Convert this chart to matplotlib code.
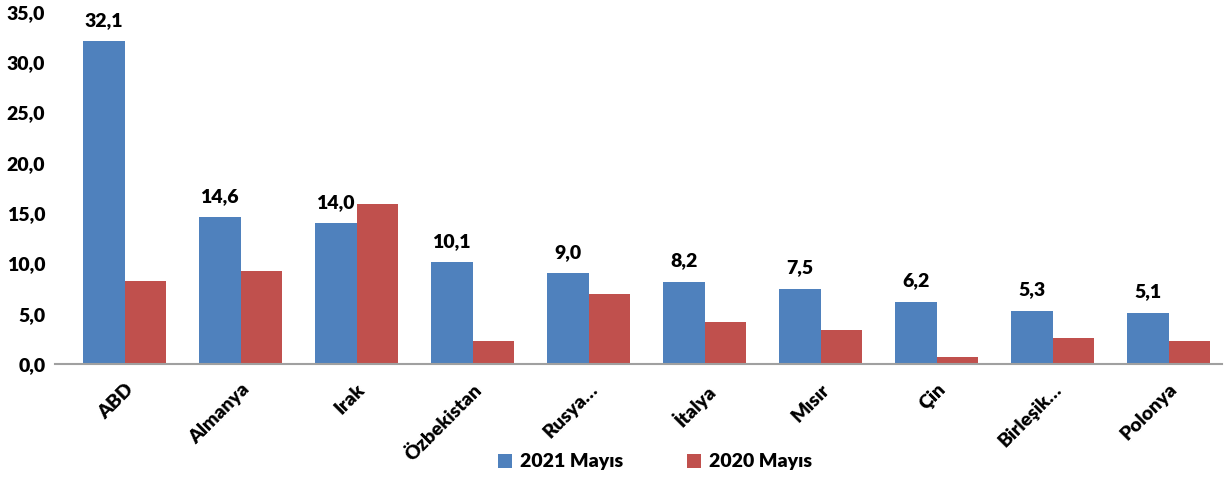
import numpy as np
import matplotlib.pyplot as plt

plt.rcParams['font.family'] = ['Lato', 'DejaVu Sans']

countries = ["ABD", "Almanya", "Irak", "Özbekistan", "Rusya…", "İtalya",
             "Mısır", "Çin", "Birleşik…", "Polonya"]
may_2021 = [32.1, 14.6, 14.0, 10.1, 9.0, 8.2, 7.5, 6.2, 5.3, 5.1]
may_2020 = [8.3, 9.2, 15.9, 2.3, 7.0, 4.2, 3.4, 0.7, 2.6, 2.3]
yticks = [0, 5, 10, 15, 20, 25, 30, 35]

blue = "#4F81BD"
red = "#C0504D"
fs = 14
wt = "heavy"

fig = plt.figure(figsize=(12.31, 4.8), dpi=100)
ax = fig.add_axes([55 / 1231, 116 / 480, 1167 / 1231, 352 / 480])

x = np.arange(len(countries))
w = 0.36
b1 = ax.bar(x - w / 2, may_2021, w, color=blue, label="2021 Mayıs")
b2 = ax.bar(x + w / 2, may_2020, w, color=red, label="2020 Mayıs")

for xi, v in zip(x, may_2021):
    ax.annotate(("%.1f" % v).replace(".", ","), (xi - w / 2, v),
                xytext=(0, 9), textcoords="offset points",
                ha="center", va="bottom", fontsize=fs, fontweight=wt)

ax.set_xlim(-0.6, 9.46)
ax.set_ylim(0, 35)
ax.set_yticks(yticks)
ax.set_yticklabels([("%.1f" % t).replace(".", ",") for t in yticks],
                   fontsize=fs, fontweight=wt)
ax.set_xticks(x)
ax.set_xticklabels(countries, rotation=45, ha="right", rotation_mode="anchor",
                   fontsize=fs, fontweight=wt)
ax.tick_params(axis="both", length=0)
ax.tick_params(axis="y", pad=7)
ax.tick_params(axis="x", pad=12)

for s in ["top", "right", "left"]:
    ax.spines[s].set_visible(False)
ax.spines["bottom"].set_color("#A0A0A0")
ax.spines["bottom"].set_linewidth(1.5)

fig.legend(handles=[b1, b2], loc="center", bbox_to_anchor=(655 / 1231, 18 / 480),
           ncol=2, frameon=False, prop={"size": fs, "weight": wt},
           handlelength=0.7, handleheight=0.7, columnspacing=3.3, handletextpad=0.4)

fig.savefig("out.png", dpi=100)
